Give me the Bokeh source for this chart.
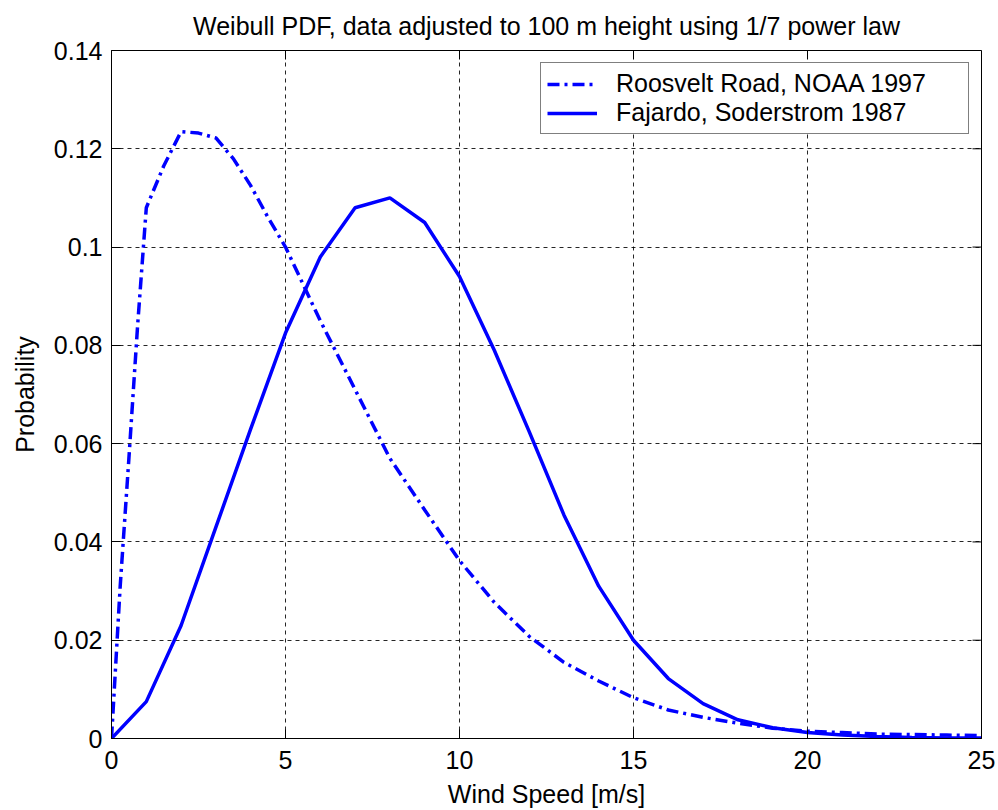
from bokeh.plotting import figure
from bokeh.models import Range1d, FixedTicker
from bokeh.embed import file_html
from bokeh.resources import INLINE

# ---- data ----
roosevelt_speed = [0, 0.25, 0.5, 0.75, 1.0, 1.5, 2.0, 2.5, 3.0, 3.5, 4.0, 4.5, 5.0, 5.5,
                   6.0, 6.5, 7.0, 8, 9, 10, 11, 12, 13, 14, 15, 16, 17, 18, 19, 20,
                   21, 22, 23, 24, 25]
roosevelt_prob = [0, 0.031, 0.057, 0.084, 0.108, 0.1165, 0.1235, 0.1232, 0.1222, 0.118,
                  0.1125, 0.106, 0.1, 0.0925, 0.085, 0.078, 0.071, 0.057, 0.0465, 0.0362,
                  0.0277, 0.0208, 0.0155, 0.0117, 0.0083, 0.0058, 0.0043, 0.0031, 0.0021,
                  0.0015, 0.0012, 0.0009, 0.0008, 0.0007, 0.0006]

fajardo_speed = [0, 1, 2, 3, 4, 5, 6, 7, 8, 9, 10, 11, 12, 13, 14, 15, 16, 17, 18, 19,
                 20, 21, 22, 23, 24, 25]
fajardo_prob = [0, 0.0075, 0.023, 0.043, 0.063, 0.0825, 0.098, 0.108, 0.110, 0.105, 0.094,
                0.079, 0.0625, 0.0455, 0.031, 0.020, 0.0122, 0.0071, 0.0038, 0.0022,
                0.0012, 0.0007, 0.0004, 0.0002, 0.0001, 0.0001]

x_ticks = [0, 5, 10, 15, 20, 25]
y_ticks = [0, 0.02, 0.04, 0.06, 0.08, 0.1, 0.12, 0.14]
y_tick_labels = ["0", "0.02", "0.04", "0.06", "0.08", "0.1", "0.12", "0.14"]

TITLE = "Weibull PDF, data adjusted to 100 m height using 1/7 power law"

FONT = "Liberation Sans"
FS = "25px"

W, H = 998, 810
BL, BR, BT, BB = 111, 17, 50, 72
X0, X1, Y0, Y1 = 0, 25, 0, 0.14
frame_w = W - BL - BR
frame_h = H - BT - BB

p = figure(width=W, height=H, output_backend="svg", toolbar_location=None,
           x_range=Range1d(X0, X1), y_range=Range1d(Y0, Y1),
           min_border_left=BL, min_border_right=BR, min_border_top=BT,
           min_border_bottom=BB, title=TITLE,
           x_axis_label="Wind Speed [m/s]", y_axis_label="Probability")

p.title.align = "center"
p.title.vertical_align = "middle"
p.title.text_font = FONT
p.title.text_font_size = "25px"
p.title.text_font_style = "normal"
p.title.text_color = "black"
p.title.standoff = 19

p.background_fill_color = "white"
p.border_fill_color = "white"
p.outline_line_color = "black"
p.outline_line_width = 1

TICK = 9
for ax in (p.xaxis[0], p.yaxis[0]):
    ax.major_tick_in = TICK
    ax.major_tick_out = 0
    ax.minor_tick_line_color = None
    ax.axis_line_color = "black"
    ax.major_tick_line_color = "black"
    ax.major_label_text_font = FONT
    ax.major_label_text_font_size = FS
    ax.major_label_text_color = "black"
    ax.axis_label_text_font = FONT
    ax.axis_label_text_font_size = FS
    ax.axis_label_text_font_style = "normal"
    ax.axis_label_text_color = "black"

p.xaxis[0].ticker = FixedTicker(ticks=x_ticks)
p.yaxis[0].ticker = FixedTicker(ticks=y_ticks)
p.yaxis[0].major_label_overrides = {t: l for t, l in zip(y_ticks, y_tick_labels)}
p.xaxis[0].major_label_standoff = 12
p.xaxis[0].axis_label_standoff = 8
p.yaxis[0].major_label_standoff = 9
p.yaxis[0].axis_label_standoff = 12

for g in (p.xgrid[0], p.ygrid[0]):
    g.grid_line_color = "black"
    g.grid_line_alpha = 0.85
    g.grid_line_dash = "4 4"
    g.grid_line_width = 1
p.xgrid[0].ticker = FixedTicker(ticks=x_ticks)
p.ygrid[0].ticker = FixedTicker(ticks=y_ticks)

# MATLAB-style box ticks on the top and right edges (tick length converted to data units)
dy = TICK * (Y1 - Y0) / frame_h
dx = TICK * (X1 - X0) / frame_w
p.segment(x0=x_ticks, y0=[Y1] * len(x_ticks), x1=x_ticks, y1=[Y1 - dy] * len(x_ticks),
          line_color="black", line_width=1)
p.segment(x0=[X1] * len(y_ticks), y0=y_ticks, x1=[X1 - dx] * len(y_ticks), y1=y_ticks,
          line_color="black", line_width=1)

p.line(roosevelt_speed, roosevelt_prob, line_color="#0000FF", line_width=3.5,
       line_dash="12 5 3 5", legend_label="Roosvelt Road, NOAA 1997")
p.line(fajardo_speed, fajardo_prob, line_color="#0000FF", line_width=3.5,
       legend_label="Fajardo, Soderstrom 1987")

lg = p.legend[0]
lg.location = "top_right"
lg.margin = 12
lg.padding = 6
lg.spacing = 0
lg.glyph_width = 50
lg.glyph_height = 24
lg.label_height = 24
lg.label_width = 346
lg.label_standoff = 19
lg.label_text_font = FONT
lg.label_text_font_size = FS
lg.label_text_color = "black"
lg.border_line_color = "black"
lg.border_line_width = 1
lg.background_fill_color = "white"
lg.background_fill_alpha = 1

open("out.html", "w").write(file_html(p, INLINE))
